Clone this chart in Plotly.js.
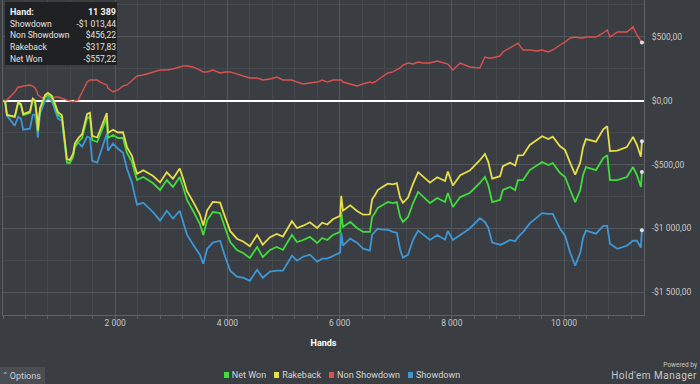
<!DOCTYPE html>
<html>
<head>
<meta charset="utf-8">
<script src="https://cdn.plot.ly/plotly-3.0.1.min.js"></script>
<style>
  html, body { margin: 0; padding: 0; background: #3a3d41; }
  #wrap { position: relative; width: 700px; height: 384px; overflow: hidden; background: #3a3d41; font-family: Roboto, "DejaVu Sans", sans-serif; }
  #chart { position: absolute; left: 0; top: 0; width: 700px; height: 384px; }
  #tip { position: absolute; left: 5px; top: 2px; width: 112px; height: 63px; background: rgba(30,31,33,0.93); color: #e2e2e2; font-size: 8.5px; box-sizing: border-box; padding: 5px 1px 0 5px; }
  #tip .row { display: flex; justify-content: space-between; height: 11.7px; line-height: 11.7px; }
  #tip .row.head { font-weight: bold; color: #f2f2f2; font-size: 9px; }
  #legend { position: absolute; left: 0; width: 684px; top: 370px; display: flex; justify-content: center; font-size: 9px; color: #d6d6d6; }
  #legend .item { display: flex; align-items: center; margin: 0 4px; }
  #legend .sw { width: 5px; height: 6px; margin-right: 3px; }
  #opts { position: absolute; left: 0; top: 367px; width: 45px; height: 17px; background: #4a4d51; color: #cfcfcf; font-size: 9px; line-height: 18px; padding-left: 3px; box-sizing: border-box; }
  #pw1 { position: absolute; right: 3px; top: 361px; font-size: 6.5px; color: #c8c8c8; }
  #pw2 { position: absolute; right: 3px; top: 370px; font-size: 10px; color: #c8c8c8; letter-spacing: 0.5px; }
</style>
</head>
<body>
<div id="wrap">
  <div id="chart"></div>
  <div id="tip"></div>
  <div id="legend"></div>
  <div id="opts">&#708; Options</div>
  <div id="pw1">Powered by</div>
  <div id="pw2">Hold'em Manager</div>
</div>
<script>
// ---- data ----
const hands = [0,40,70,210,270,320,360,480,530,570,610,620,660,700,750,800,870,930,980,1050,1070,1140,1190,1250,1280,1340,1410,1500,1550,1590,1680,1730,1820,1850,1870,1960,2050,2140,2210,2300,2350,2390,2500,2670,2800,2920,3030,3150,3210,3280,3390,3510,3570,3640,3740,3870,3960,4050,4170,4280,4400,4530,4630,4760,4880,4990,5150,5240,5350,5470,5600,5690,5780,5880,6010,6030,6060,6190,6310,6420,6540,6580,6630,6680,6770,6860,6950,7020,7080,7130,7220,7310,7400,7490,7610,7740,7880,7930,8020,8150,8320,8500,8590,8650,8720,8860,8910,9040,9130,9180,9270,9390,9520,9610,9720,9800,9930,10020,10110,10200,10290,10340,10390,10570,10700,10770,10820,10950,11120,11230,11300,11370,11389];

const netWon = [0,-10,-112,-128,-18,-34,-112,-96,5,-10,-151,-245,-73,-34,29,45,21,-49,-112,-135,-214,-481,-488,-441,-362,-323,-292,-135,-128,-308,-323,-268,-167,-135,-292,-268,-292,-292,-409,-481,-566,-621,-597,-644,-699,-621,-675,-597,-675,-777,-863,-965,-1051,-934,-871,-879,-996,-1106,-1168,-1192,-1231,-1145,-1224,-1168,-1145,-1168,-1051,-1106,-1090,-1066,-1114,-1074,-1090,-1051,-1027,-871,-988,-949,-996,-1027,-1027,-910,-879,-839,-816,-793,-801,-793,-910,-949,-910,-801,-714,-754,-801,-762,-793,-722,-832,-754,-722,-644,-597,-660,-793,-777,-699,-675,-699,-621,-621,-543,-504,-480,-504,-488,-566,-597,-699,-793,-699,-582,-519,-543,-449,-426,-621,-621,-597,-519,-582,-675,-557.22];

const rakeback = [0,-9,-111,-124,-12,-27,-104,-86,16,2,-138,-232,-59,-19,45,62,39,-29,-91,-113,-192,-457,-463,-415,-335,-295,-262,-104,-95,-275,-288,-232,-129,-96,-253,-227,-249,-247,-363,-433,-517,-571,-545,-588,-640,-560,-611,-531,-608,-708,-792,-891,-976,-858,-792,-798,-913,-1021,-1080,-1102,-1139,-1050,-1127,-1068,-1043,-1063,-943,-996,-978,-951,-996,-955,-969,-928,-901,-744,-861,-819,-863,-892,-890,-772,-740,-699,-674,-649,-655,-646,-761,-799,-758,-648,-559,-597,-641,-599,-628,-555,-664,-583,-547,-466,-417,-478,-610,-591,-512,-485,-507,-428,-426,-346,-304,-278,-300,-282,-357,-387,-487,-579,-483,-365,-301,-321,-224,-200,-394,-391,-363,-283,-345,-438,-317.83];

const nonShowdown = [0,0,5,68,107,107,115,123,115,99,68,45,29,21,29,29,21,29,29,21,13,5,-2,-10,-2,5,68,146,162,162,162,146,131,123,99,68,84,115,123,162,178,193,201,225,240,240,248,264,272,272,264,240,225,225,240,217,225,225,209,193,178,178,162,170,185,162,162,146,131,139,146,162,146,162,162,162,146,131,115,131,146,139,146,162,193,217,225,240,256,279,295,287,303,295,295,311,295,287,240,295,264,256,342,334,334,350,381,412,436,451,397,397,389,397,381,397,436,459,491,498,491,491,498,498,530,553,498,538,538,577,514,475,456.22];

const showdown = [0,-10,-117,-196,-125,-141,-227,-219,-110,-109,-219,-290,-102,-55,0,16,0,-78,-141,-156,-227,-486,-486,-431,-360,-328,-360,-281,-290,-470,-485,-414,-298,-258,-391,-336,-376,-407,-532,-643,-744,-814,-798,-869,-939,-861,-923,-861,-947,-1049,-1127,-1205,-1276,-1159,-1111,-1096,-1221,-1331,-1377,-1385,-1409,-1323,-1386,-1338,-1330,-1330,-1213,-1252,-1221,-1205,-1260,-1236,-1236,-1213,-1189,-1033,-1134,-1080,-1111,-1158,-1173,-1049,-1025,-1001,-1009,-1010,-1026,-1033,-1166,-1228,-1205,-1088,-1017,-1049,-1090,-1051,-1088,-1020,-1090,-1051,-1000,-920,-949,-994,-1110,-1127,-1120,-1090,-1100,-1067,-1028,-960,-911,-880,-885,-885,-1002,-1056,-1190,-1291,-1190,-1073,-1017,-1041,-979,-979,-1119,-1159,-1135,-1096,-1096,-1150,-1013.44];

const seriesNames = ['Net Won', 'Rakeback', 'Non Showdown', 'Showdown'];
const seriesColors = ['#3fdc3a', '#e6dd4a', '#dc5150', '#3d97d6'];

const xTickVals = [2000, 4000, 6000, 8000, 10000];
const xTickText = ['2 000', '4 000', '6 000', '8 000', '10 000'];
const yTickVals = [500, 0, -500, -1000, -1500];
const yTickText = ['$500,00', '$0,00', '-$500,00', '-$1 000,00', '-$1 500,00'];

// ---- helpers ----
function groupThousands(s) { return s.replace(/\B(?=(\d{3})+(?!\d))/g, ' '); }
function fmtMoney(v) {
  const neg = v < 0;
  const parts = Math.abs(v).toFixed(2).split('.');
  return (neg ? '-' : '') + '$' + groupThousands(parts[0]) + ',' + parts[1];
}

const seriesData = [netWon, rakeback, nonShowdown, showdown];
const drawOrder = [3, 2, 0, 1];
const widths = [1.8, 1.8, 1.4, 1.8];

const traces = drawOrder.map(i => ({
  type: 'scatter', mode: 'lines', name: seriesNames[i],
  x: hands, y: seriesData[i], line: { color: seriesColors[i], width: widths[i], shape: 'linear' },
  showlegend: false, hoverinfo: 'skip'
}));
const last = hands.length - 1;
traces.push({
  type: 'scatter', mode: 'markers', x: seriesData.map(() => hands[last]), y: seriesData.map(s => s[last]),
  marker: { size: 4, color: '#e2e2e2' }, showlegend: false, cliponaxis: false, hoverinfo: 'skip'
});

const layout = {
  width: 700, height: 384,
  margin: { l: 3, r: 56, t: 0, b: 69 },
  paper_bgcolor: '#3a3d41', plot_bgcolor: '#3a3d41',
  font: { family: 'Roboto, "DejaVu Sans", sans-serif', size: 8.5, color: '#c8c8c8' },
  showlegend: false,
  xaxis: {
    range: [0, 11426], tickmode: 'array', tickvals: xTickVals, ticktext: xTickText,
    showgrid: true, gridcolor: '#54575b', gridwidth: 1, zeroline: false,
    showline: true, linecolor: '#5e6165', linewidth: 1, mirror: false,
    ticks: '', tickfont: { size: 8.5, color: '#c8c8c8' },
    minor: { tickmode: 'linear', tick0: 0, dtick: 400, showgrid: true, gridcolor: '#45484c', gridwidth: 1, ticks: 'outside', ticklen: 3, tickcolor: '#5e6165' },
    title: { text: '<b>Hands</b>', font: { size: 9, color: '#ffffff' }, standoff: 12 }
  },
  yaxis: {
    side: 'right', range: [-1677, 788], tickmode: 'array', tickvals: yTickVals, ticktext: yTickText,
    showgrid: true, gridcolor: '#54575b', gridwidth: 1,
    zeroline: true, zerolinecolor: '#ffffff', zerolinewidth: 2,
    showline: true, linecolor: '#5e6165', linewidth: 1, mirror: true,
    ticks: 'outside', ticklen: 5, tickcolor: 'rgba(0,0,0,0)', tickfont: { size: 8.5, color: '#c8c8c8' },
    minor: { tickmode: 'linear', tick0: 0, dtick: 250, showgrid: true, gridcolor: '#45484c', gridwidth: 1 }
  }
};

Plotly.newPlot('chart', traces, layout, { displayModeBar: false, staticPlot: true });

// ---- tooltip box ----
const tip = document.getElementById('tip');
const tipRows = [['Hand:', groupThousands(String(hands[last])), true],
  ['Showdown', fmtMoney(showdown[last])],
  ['Non Showdown', fmtMoney(nonShowdown[last])],
  ['Rakeback', fmtMoney(rakeback[last])],
  ['Net Won', fmtMoney(netWon[last])]];
tipRows.forEach(r => {
  const d = document.createElement('div');
  d.className = 'row' + (r[2] ? ' head' : '');
  d.innerHTML = '<span>' + r[0] + '</span><span>' + r[1] + '</span>';
  tip.appendChild(d);
});

// ---- legend ----
const lg = document.getElementById('legend');
seriesNames.forEach((n, i) => {
  const it = document.createElement('div');
  it.className = 'item';
  it.innerHTML = '<span class="sw" style="background:' + seriesColors[i] + '"></span><span>' + n + '</span>';
  lg.appendChild(it);
});
</script>
</body>
</html>
